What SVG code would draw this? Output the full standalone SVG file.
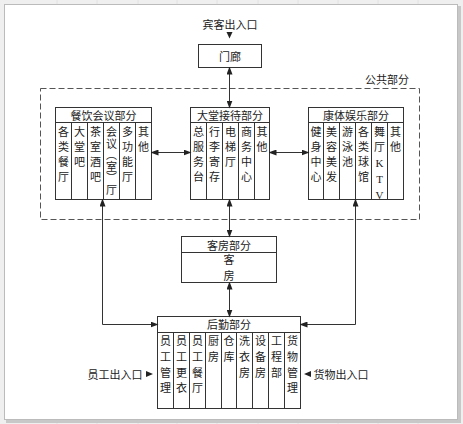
<svg xmlns="http://www.w3.org/2000/svg" width="463" height="424" viewBox="0 0 463 424">
<style>
text{font-family:"Noto Sans CJK SC","Noto Sans",sans-serif;font-size:11px;fill:#222;text-anchor:middle;dominant-baseline:central}
.v{writing-mode:vertical-rl;text-orientation:upright;text-anchor:start;letter-spacing:4px}
.vb{letter-spacing:4.7px}
.v0{letter-spacing:0.5px}
.lat{font-family:"Liberation Serif",serif;font-size:11px}
.box{fill:#fff;stroke:#333;stroke-width:1}
.ln{fill:none;stroke:#333;stroke-width:1}
.dash{fill:none;stroke:#555;stroke-width:1;stroke-dasharray:6 3}
.tri{fill:#222}
</style>
<defs>
<marker id="ah" markerWidth="8" markerHeight="6" refX="7" refY="3" orient="auto-start-reverse" markerUnits="userSpaceOnUse">
<path d="M0,0 L8,3 L0,6 Z" fill="#222"/>
</marker>
</defs>
<rect x="0" y="0" width="463" height="424" fill="#efefef"/>
<g stroke="#e2e2e2" stroke-width="1">
<path d="M57 0V4M97 0V4M138 0V4M177 0V4M217 0V4M258 0V4M298 0V4M338 0V4M378 0V4M418 0V4"/>
<path d="M57 420V424M97 420V424M138 420V424M177 420V424M217 420V424M258 420V424M298 420V424M338 420V424M378 420V424M418 420V424"/>
</g>
<rect x="6" y="6" width="455" height="417" fill="#c8c8c8"/>
<rect x="4.5" y="4.5" width="453" height="415" fill="#fff" stroke="#bbb"/>

<text x="230" y="24">宾客出入口</text>
<text x="387" y="79">公共部分</text>
<rect class="dash" x="40.5" y="88.5" width="379" height="131"/>

<g id="menlang">
<rect class="box" x="198.5" y="44.5" width="63" height="23"/>
<text x="230" y="56">门廊</text>
</g>

<g id="canyin">
<rect class="box" x="55.5" y="107.5" width="96" height="92"/>
<path class="ln" d="M55.5 122.5H151.5M71.5 122.5V199.5M87.5 122.5V199.5M103.5 122.5V199.5M119.5 122.5V199.5M135.5 122.5V199.5"/>
<text x="103.5" y="115">餐饮会议部分</text>
<text class="v" x="63.5" y="126.5">各类餐厅</text>
<text class="v" x="79.5" y="126.5">大堂吧</text>
<text class="v" x="95.5" y="126.5">茶室酒吧</text>
<text class="v v0" x="111.5" y="126.5">会议（室）厅</text>
<text class="v" x="127.5" y="126.5">多功能厅</text>
<text class="v" x="143.5" y="126.5">其他</text>
</g>

<g id="datang">
<rect class="box" x="190.5" y="107.5" width="79" height="92"/>
<path class="ln" d="M190.5 122.5H269.5M206.5 122.5V199.5M222.5 122.5V199.5M238.5 122.5V199.5M254.5 122.5V199.5"/>
<text x="230" y="115">大堂接待部分</text>
<text class="v" x="198.5" y="126.5">总服务台</text>
<text class="v" x="214.5" y="126.5">行李寄存</text>
<text class="v" x="230.5" y="126.5">电梯厅</text>
<text class="v" x="246.5" y="126.5">商务中心</text>
<text class="v" x="262" y="126.5">其他</text>
</g>

<g id="kangti">
<rect class="box" x="308.5" y="107.5" width="95" height="92"/>
<path class="ln" d="M308.5 122.5H403.5M323.5 122.5V199.5M339.5 122.5V199.5M355.5 122.5V199.5M371.5 122.5V199.5M387.5 122.5V199.5"/>
<text x="356" y="115">康体娱乐部分</text>
<text class="v" x="316" y="126.5">健身中心</text>
<text class="v" x="331.5" y="126.5">美容美发</text>
<text class="v" x="347.5" y="126.5">游泳池</text>
<text class="v" x="363.5" y="126.5">各类球馆</text>
<text class="v" x="379.5" y="126.5">舞厅<tspan class="lat">KTV</tspan></text>
<text class="v" x="395.5" y="126.5">其他</text>
</g>

<g id="kefang">
<rect class="box" x="181.5" y="236.5" width="95" height="46"/>
<path class="ln" d="M181.5 252.5H276.5"/>
<text x="229" y="245">客房部分</text>
<text class="v" x="229" y="254.5" style="letter-spacing:5px">客房</text>
</g>

<g id="houqin">
<rect class="box" x="157.5" y="316.5" width="143" height="92"/>
<path class="ln" d="M157.5 332.5H300.5M173.5 332.5V408.5M189.5 332.5V408.5M205.5 332.5V408.5M221.5 332.5V408.5M236.5 332.5V408.5M252.5 332.5V408.5M268.5 332.5V408.5M284.5 332.5V408.5"/>
<text x="229" y="324">后勤部分</text>
<text class="v vb" x="165.5" y="335.5">员工管理</text>
<text class="v vb" x="181.5" y="335.5">员工更衣</text>
<text class="v vb" x="197.5" y="335.5">员工餐厅</text>
<text class="v vb" x="213.5" y="335.5">厨房</text>
<text class="v vb" x="229" y="335.5">仓库</text>
<text class="v vb" x="244.5" y="335.5">洗衣房</text>
<text class="v vb" x="260.5" y="335.5">设备房</text>
<text class="v vb" x="276.5" y="335.5">工程部</text>
<text class="v vb" x="292.5" y="335.5">货物管理</text>
</g>

<g id="connectors">
<polygon class="tri" points="226.5,32 232.5,32 229.5,38.5"/>
<line class="ln" x1="229.5" y1="67.5" x2="229.5" y2="107.5" marker-start="url(#ah)" marker-end="url(#ah)"/>
<line class="ln" x1="151.5" y1="152.5" x2="190.5" y2="152.5" marker-start="url(#ah)" marker-end="url(#ah)"/>
<line class="ln" x1="269.5" y1="152.5" x2="308.5" y2="152.5" marker-start="url(#ah)" marker-end="url(#ah)"/>
<line class="ln" x1="229.5" y1="199.5" x2="229.5" y2="236.5" marker-start="url(#ah)" marker-end="url(#ah)"/>
<line class="ln" x1="229.5" y1="282.5" x2="229.5" y2="316.5" marker-start="url(#ah)" marker-end="url(#ah)"/>
<path class="ln" d="M102.5 199.5V324.5H157.5" marker-start="url(#ah)" marker-end="url(#ah)"/>
<path class="ln" d="M355.5 199.5V324.5H300.5" marker-start="url(#ah)" marker-end="url(#ah)"/>
<polygon class="tri" points="146,371 153,374 146,377"/>
<polygon class="tri" points="311,371 304,374 311,377"/>
</g>
<text x="115" y="374">员工出入口</text>
<text x="341" y="374">货物出入口</text>
</svg>
